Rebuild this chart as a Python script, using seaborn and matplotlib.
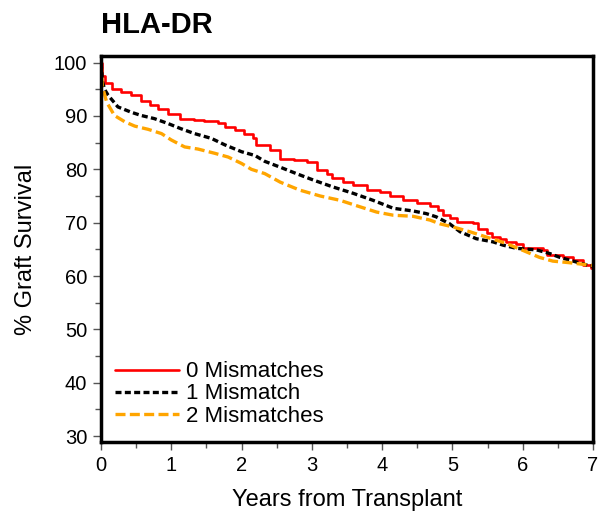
import numpy as np
import pandas as pd
import matplotlib
matplotlib.use('Agg')
import matplotlib.pyplot as plt
from matplotlib.ticker import MultipleLocator
import seaborn as sns

# survival curves (years, % graft survival)
t_zero = [0.0, 0.02, 0.05, 0.15, 0.29, 0.43, 0.57, 0.69, 0.81, 0.95, 1.12, 1.33, 1.47, 1.66,
          1.76, 1.90, 2.04, 2.16, 2.21, 2.40, 2.55, 2.74, 2.93, 3.07, 3.21, 3.28, 3.45,
          3.59, 3.78, 3.97, 4.11, 4.30, 4.49, 4.68, 4.80, 4.87, 4.96, 5.06, 5.30, 5.37,
          5.49, 5.56, 5.68, 5.77, 5.91, 6.01, 6.29, 6.34, 6.58, 6.72, 6.86, 6.98, 7.0]
s_zero = [100.0, 97.5, 96.1, 95.1, 94.5, 93.9, 92.9, 92.0, 91.4, 90.4, 89.5, 89.2, 89.0, 88.6,
          87.9, 87.3, 86.7, 85.8, 84.6, 83.6, 82.0, 81.7, 81.4, 79.8, 79.2, 78.3, 77.6,
          77.0, 76.1, 75.8, 75.0, 74.3, 73.6, 73.1, 72.3, 71.4, 70.8, 70.2, 70.0, 68.9,
          68.0, 67.3, 66.9, 66.4, 66.1, 65.2, 64.9, 63.9, 63.5, 63.0, 62.0, 61.6, 61.6]

t_one = [0.0, 0.02, 0.05, 0.10, 0.24, 0.43, 0.57, 0.76, 0.95, 1.14, 1.33, 1.57, 1.76, 2.00,
         2.19, 2.33, 2.55, 2.78, 3.02, 3.30, 3.59, 3.87, 4.16, 4.44, 4.63, 4.77, 4.96,
         5.11, 5.34, 5.58, 5.72, 5.91, 6.20, 6.39, 6.53, 6.72, 6.96, 7.0]
s_one = [100.0, 96.5, 95.0, 93.9, 91.7, 90.7, 90.1, 89.5, 88.6, 87.6, 86.7, 85.8, 84.6, 83.3,
         82.6, 81.5, 80.4, 79.2, 78.0, 76.7, 75.5, 74.2, 72.7, 72.2, 71.7, 71.1, 69.8,
         68.3, 67.0, 66.4, 65.8, 65.2, 64.9, 64.2, 63.5, 62.8, 61.9, 61.9]

t_two = [0.0, 0.02, 0.08, 0.19, 0.34, 0.48, 0.67, 0.86, 1.00, 1.19, 1.38, 1.62, 1.81, 2.00,
         2.14, 2.33, 2.55, 2.83, 3.12, 3.40, 3.68, 3.92, 4.16, 4.44, 4.68, 4.82, 5.01,
         5.25, 5.44, 5.63, 5.77, 6.06, 6.24, 6.43, 6.67, 6.86, 6.98, 7.0]
s_two = [100.0, 95.5, 92.6, 90.1, 88.9, 88.1, 87.5, 86.7, 85.5, 84.2, 83.8, 83.0, 82.3, 81.1,
         80.0, 79.2, 77.6, 76.1, 75.0, 74.2, 73.0, 72.0, 71.4, 71.2, 70.5, 69.8, 69.2,
         68.3, 67.5, 66.7, 66.1, 64.5, 63.5, 62.8, 62.5, 62.2, 62.0, 62.0]

labels = ['0 Mismatches', '1 Mismatch', '2 Mismatches']
x_ticks = [0, 1, 2, 3, 4, 5, 6, 7]
y_ticks = [30, 40, 50, 60, 70, 80, 90, 100]

sns.set_style('ticks')
plt.rcParams['font.family'] = ['Liberation Sans', 'DejaVu Sans']
plt.rcParams['text.color'] = 'black'
plt.rcParams['axes.labelcolor'] = 'black'

fig = plt.figure(figsize=(6.05, 5.11), dpi=100)
ax = fig.add_axes([0.167, 0.135, 0.813, 0.755])

dash_one = [1.8, 1.0]
dash_two = [3.0, 1.3]

sns.lineplot(x=t_zero, y=s_zero, ax=ax, color='#ff0000', linewidth=1.9,
             drawstyle='steps-post', sort=False, label=labels[0])
sns.lineplot(x=t_one, y=s_one, ax=ax, color='black', linewidth=2.4,
             sort=False, label=labels[1])
sns.lineplot(x=t_two, y=s_two, ax=ax, color='#ffa500', linewidth=2.4,
             sort=False, label=labels[2])
ax.lines[1].set_dashes(dash_one)
ax.lines[2].set_dashes(dash_two)

ax.set_xlim(0, 7)
ax.set_ylim(28.9, 101.2)
ax.set_xticks(x_ticks)
ax.set_yticks(y_ticks)
ax.xaxis.set_minor_locator(MultipleLocator(0.5))
ax.yaxis.set_minor_locator(MultipleLocator(5))
ax.tick_params(which='major', length=6, width=1, color='#555555', labelcolor='black',
               labelsize=14.5, pad=4)
ax.tick_params(which='minor', length=4, width=1, color='#555555')
for side in ['left', 'right', 'top', 'bottom']:
    ax.spines[side].set_visible(True)
    ax.spines[side].set_linewidth(2.5)
    ax.spines[side].set_color('black')

ax.set_xlabel('Years from Transplant', fontsize=17, labelpad=10)
ax.set_ylabel('% Graft Survival', fontsize=17, labelpad=12)
fig.text(0.167, 0.952, 'HLA-DR', fontsize=21, fontweight='bold', ha='left', va='center')

leg = ax.legend(loc='lower left', bbox_to_anchor=(0.028, 0.04), frameon=False,
                fontsize=16, handlelength=2.9, handletextpad=0.3,
                labelspacing=0.05, borderpad=0, borderaxespad=0)
leg.get_lines()[1].set_dashes(dash_one)
leg.get_lines()[2].set_dashes(dash_two)

fig.savefig('out.png', dpi=100)
